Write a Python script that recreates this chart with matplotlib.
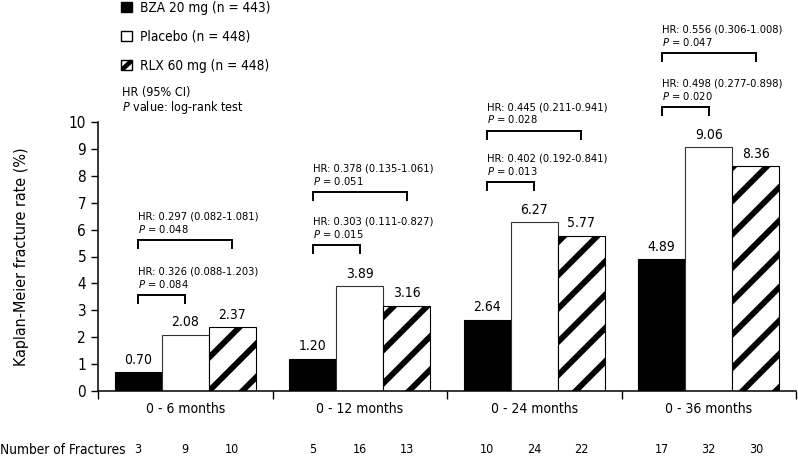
import matplotlib
matplotlib.use("Agg")
import matplotlib.pyplot as plt
from matplotlib.patches import Rectangle, Polygon, Patch
from matplotlib.legend_handler import HandlerBase
import numpy as np

plt.rcParams['font.family'] = ['DejaVu Sans']
plt.rcParams['font.stretch'] = 'condensed'
plt.rcParams['mathtext.fontset'] = 'custom'
plt.rcParams['mathtext.rm'] = 'DejaVu Sans:stretch=condensed'
plt.rcParams['mathtext.it'] = 'DejaVu Sans:italic:stretch=condensed'
plt.rcParams['hatch.linewidth'] = 4.2

# data
periods = ["0 - 6 months", "0 - 12 months", "0 - 24 months", "0 - 36 months"]
bza = [0.70, 1.20, 2.64, 4.89]
placebo = [2.08, 3.89, 6.27, 9.06]
rlx = [2.37, 3.16, 5.77, 8.36]
labels = ["BZA 20 mg (n = 443)", "Placebo (n = 448)", "RLX 60 mg (n = 448)"]

n_bza = [3, 5, 10, 17]
n_placebo = [9, 16, 24, 32]
n_rlx = [10, 13, 22, 30]

# BZA vs placebo (short bracket) and BZA vs RLX (long bracket)
hr_pbo = ["HR: 0.326 (0.088-1.203)", "HR: 0.303 (0.111-0.827)",
          "HR: 0.402 (0.192-0.841)", "HR: 0.498 (0.277-0.898)"]
p_pbo = ["0.084", "0.015", "0.013", "0.020"]
hr_rlx = ["HR: 0.297 (0.082-1.081)", "HR: 0.378 (0.135-1.061)",
          "HR: 0.445 (0.211-0.941)", "HR: 0.556 (0.306-1.008)"]
p_rlx = ["0.048", "0.051", "0.028", "0.047"]
bracket_pbo_y = [3.57, 5.43, 7.78, 10.56]
bracket_rlx_y = [5.61, 7.40, 9.68, 12.57]


class SplitSquare(HandlerBase):
    # white square crossed by one thick black diagonal stripe
    def create_artists(self, legend, orig_handle, xdescent, ydescent,
                       width, height, fontsize, trans):
        x0, y0 = -xdescent, -ydescent
        sq = Rectangle((x0, y0), width, height, facecolor="white",
                       edgecolor="black", lw=1.0, transform=trans)
        b = 0.3 * width
        band = Polygon([[x0, y0], [x0 + b, y0], [x0 + width, y0 + height - b],
                        [x0 + width, y0 + height], [x0 + width - b, y0 + height],
                        [x0, y0 + b]], closed=True, facecolor="black",
                       edgecolor="none", transform=trans)
        return [sq, band]


fig = plt.figure(figsize=(7.98, 4.57), dpi=100)
ax = fig.add_axes([98 / 798, 66 / 457, 698 / 798, 269 / 457])

x = np.arange(len(periods))
w = 0.27
ax.bar(x - w, bza, w, color="black", edgecolor="black", lw=0.8)
ax.bar(x, placebo, w, color="white", edgecolor="#333333", lw=0.8)
ax.bar(x + w, rlx, w, color="white", edgecolor="black", lw=0.8, hatch="/")

for xs, vals in [(x - w, bza), (x, placebo), (x + w, rlx)]:
    for xi, v in zip(xs, vals):
        ax.annotate(f"{v:.2f}", (xi, v), xytext=(0, 4), textcoords="offset points",
                    ha="center", va="bottom", fontsize=10)


def bracket(x1, x2, y, hr, p):
    drop = 0.3
    ax.plot([x1, x1, x2, x2], [y - drop, y, y, y - drop], color="black",
            lw=1.4, clip_on=False, solid_joinstyle="miter")
    ax.annotate("$P$ = " + p, (x1, y), xytext=(0, 8), textcoords="offset points",
                ha="left", va="center", fontsize=8, annotation_clip=False)
    ax.annotate(hr, (x1, y), xytext=(0, 16.8), textcoords="offset points",
                ha="left", va="center", fontsize=8, annotation_clip=False)


for i in range(len(periods)):
    bracket(x[i] - w, x[i], bracket_pbo_y[i], hr_pbo[i], p_pbo[i])
    bracket(x[i] - w, x[i] + w, bracket_rlx_y[i], hr_rlx[i], p_rlx[i])

ax.set_xlim(-0.5, len(periods) - 0.5)
ax.set_ylim(0, 10)
ax.set_yticks(range(0, 11))
ax.tick_params(axis="y", labelsize=11, length=5, width=1)
ax.set_xticks(np.arange(len(periods) + 1) - 0.5)
ax.set_xticklabels([])
ax.set_xticks(x, minor=True)
ax.set_xticklabels(periods, minor=True)
ax.tick_params(axis="x", which="major", length=6, width=1)
ax.tick_params(axis="x", which="minor", length=0, pad=8, labelsize=10)
for s in ["top", "right"]:
    ax.spines[s].set_visible(False)
for s in ["left", "bottom"]:
    ax.spines[s].set_linewidth(1.1)
ax.set_ylabel("Kaplan-Meier fracture rate (%)", fontsize=11.5)
ax.yaxis.set_label_coords(-0.099, 0.5)

# number of fractures row
for xs, vals in [(x - w, n_bza), (x, n_placebo), (x + w, n_rlx)]:
    for xi, v in zip(xs, vals):
        ax.text(xi, -0.219, str(v), transform=ax.get_xaxis_transform(),
                ha="center", va="center", fontsize=9)
fig.text(0.0, 1 - 450 / 457, "Number of Fractures", ha="left", va="center", fontsize=9.8)

# legend
handles = [Patch(facecolor="black", edgecolor="black"),
           Patch(facecolor="white", edgecolor="black"),
           Patch(facecolor="white", edgecolor="black", label="rlx")]
leg = fig.legend(handles, labels, loc="upper left",
                 bbox_to_anchor=(116 / 798, 1.01), frameon=False, fontsize=9.8,
                 handlelength=0.8, handleheight=0.8, handletextpad=0.55,
                 labelspacing=1.1, borderaxespad=0,
                 handler_map={handles[2]: SplitSquare()})
fig.text(122 / 798, 1 - 92 / 457, "HR (95% CI)", ha="left", va="center", fontsize=9)
fig.text(122 / 798, 1 - 108 / 457, "$P$ value: log-rank test", ha="left",
         va="center", fontsize=9)

fig.savefig("out.png", dpi=100)
